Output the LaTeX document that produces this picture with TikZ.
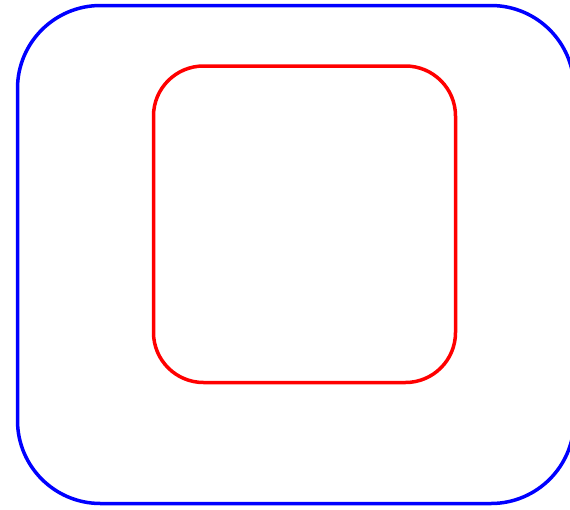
\documentclass[tikz,border=0pt]{standalone}
\begin{document}
\begin{tikzpicture}[
    x=1pt, y=-1pt,
    frame/.style={draw=#1, line width=3.5pt, rounded corners=83pt}
]
    % Marges de la figura
    \useasboundingbox (0, 0) rectangle (570, 509);
    \clip (0, 0) rectangle (570, 509);

    % Rectangle exterior
    \draw[frame=blue] (17.5, 5.5) rectangle (574, 503.5);

    % Rectangle interior
    \draw[frame=red, rounded corners=50pt] (153.5, 66) rectangle (455.5, 382.5);
\end{tikzpicture}
\end{document}
